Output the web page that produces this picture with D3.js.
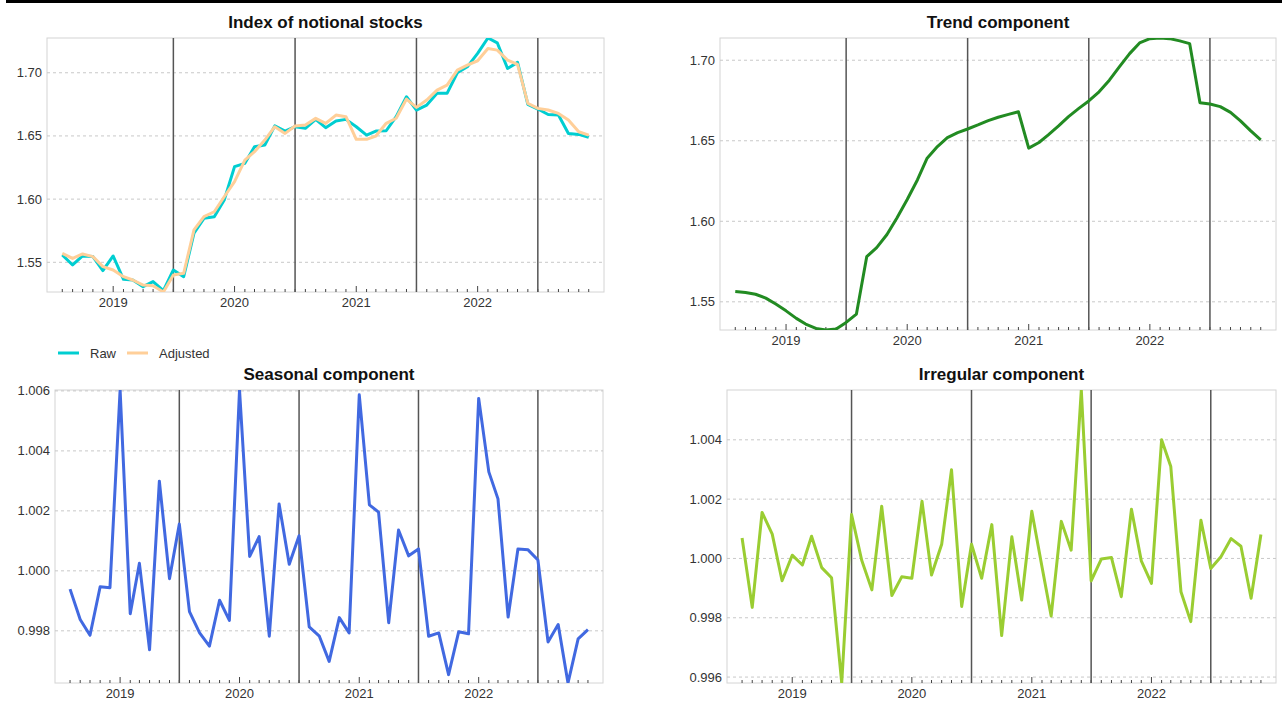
<!DOCTYPE html>
<html>
<head>
<meta charset="utf-8">
<script src="https://cdn.jsdelivr.net/npm/d3@7"></script>
<style>
body { margin: 0; background: #fff; }
svg { display: block; font-family: "Liberation Sans", Arial, sans-serif; }
</style>
</head>
<body>
<svg id="chart" width="1282" height="720"></svg>
<script>
// months Aug 2018 .. Dec 2022
var months = d3.utcMonth.range(new Date(Date.UTC(2018, 7, 1)), new Date(Date.UTC(2023, 0, 1)));
var yearLabels = ["2019", "2020", "2021", "2022"];
var breakDates = ["2019-07-01", "2020-07-01", "2021-07-01", "2022-07-01"];

var raw = [1.5558, 1.5479, 1.5550, 1.5545, 1.5434,
  1.5550, 1.5365, 1.5360, 1.5307, 1.5347, 1.5276, 1.5439, 1.5386, 1.5730, 1.5848, 1.5860, 1.5993,
  1.6257, 1.6283, 1.6415, 1.6428, 1.6580, 1.6539, 1.6573, 1.6560, 1.6631, 1.6565, 1.6618, 1.6631,
  1.6573, 1.6507, 1.6539, 1.6541, 1.6652, 1.6810, 1.6705, 1.6744, 1.6837, 1.6837, 1.7000, 1.7047,
  1.7153, 1.7275, 1.7237, 1.7034, 1.7082, 1.6750, 1.6713, 1.6670, 1.6665, 1.6520, 1.6512, 1.6489];

var adjusted = [1.5571, 1.5531, 1.5566, 1.5545, 1.5466,
  1.5439, 1.5386, 1.5360, 1.5320, 1.5315, 1.5265, 1.5400, 1.5413, 1.5756, 1.5861, 1.5900, 1.6019,
  1.6138, 1.6309, 1.6375, 1.6467, 1.6573, 1.6520, 1.6578, 1.6586, 1.6639, 1.6599, 1.6665, 1.6652,
  1.6473, 1.6473, 1.6499, 1.6600, 1.6640, 1.6792, 1.6726, 1.6784, 1.6863, 1.6902, 1.7021, 1.7061,
  1.7095, 1.7192, 1.7179, 1.7100, 1.7066, 1.6757, 1.6718, 1.6705, 1.6678, 1.6626, 1.6533, 1.6507];

var trend = [1.5564, 1.5558, 1.5547, 1.5523, 1.5486,
  1.5444, 1.5397, 1.5362, 1.5335, 1.5325, 1.5331, 1.5372, 1.5424, 1.5780, 1.5836, 1.5918, 1.6021,
  1.6135, 1.6258, 1.6392, 1.6464, 1.6520, 1.6551, 1.6573, 1.6598, 1.6625, 1.6646, 1.6664, 1.6680,
  1.6454, 1.6489, 1.6536, 1.6592, 1.6650, 1.6701, 1.6747, 1.6804, 1.6876, 1.6959, 1.7041, 1.7107,
  1.7134, 1.7138, 1.7134, 1.7120, 1.7103, 1.6736, 1.6728, 1.6712, 1.6676, 1.6623, 1.6561, 1.6505];

var seasonal = [0.99939, 0.99838, 0.99785, 0.99947, 0.99944,
  1.00603, 0.99857, 1.00025, 0.99737, 1.00299, 0.99974, 1.00156, 0.99864, 0.99793, 0.99749, 0.99902, 0.99835,
  1.00603, 1.00048, 1.00114, 0.99782, 1.00223, 1.00022, 1.00117, 0.99813, 0.99782, 0.99698, 0.99844, 0.99793,
  1.00587, 1.00220, 1.00196, 0.99827, 1.00136, 1.00050, 1.00073, 0.99782, 0.99793, 0.99654, 0.99797, 0.99790,
  1.00575, 1.00330, 1.00240, 0.99846, 1.00073, 1.00070, 1.00036, 0.99763, 0.99821, 0.99626, 0.99773, 0.99804];

var irregular = [1.00069, 0.99835, 1.00155, 1.00082, 0.99925,
  1.00011, 0.99978, 1.00075, 0.99969, 0.99935, 0.99580, 1.00148, 0.99994, 0.99894, 1.00176, 0.99875, 0.99938,
  0.99933, 1.00193, 0.99944, 1.00048, 1.00299, 0.99838, 1.00048, 0.99933, 1.00114, 0.99740, 1.00073, 0.99860,
  1.00159, 0.99972, 0.99806, 1.00125, 1.00028, 1.00568, 0.99924, 0.99998, 1.00003, 0.99871, 1.00166, 0.99992,
  0.99916, 1.00400, 1.00310, 0.99888, 0.99787, 1.00129, 0.99966, 1.00006, 1.00067, 1.00041, 0.99866, 1.00081];

var ticksLevel = [1.55, 1.60, 1.65, 1.70];
var ticksSeasonal = [0.998, 1.000, 1.002, 1.004, 1.006];
var ticksIrregular = [0.996, 0.998, 1.000, 1.002, 1.004];

var legendNames = ["Raw", "Adjusted"];
var legendColors = ["#00ced1", "#ffcf99"];

var svg = d3.select("#chart");

// black strip along the top
svg.append("rect").attr("x", 6).attr("y", 0).attr("width", 1276).attr("height", 3).attr("fill", "#000");

function drawPanel(box, title, series, yTicks, fmt, id) {
    var w = box.x1 - box.x0, h = box.y1 - box.y0;
    var g = svg.append("g").attr("transform", "translate(" + box.x0 + "," + box.y0 + ")");

    var x = d3.scaleUtc()
        .domain([d3.utcDay.offset(months[0], -46), d3.utcDay.offset(months[months.length - 1], 46)])
        .range([0, w]);
    var all = [];
    series.forEach(function(s) { all = all.concat(s.values); });
    var y = d3.scaleLinear().domain(d3.extent(all)).range([h, 0]);

    // border
    g.append("rect").attr("width", w).attr("height", h)
        .attr("fill", "none").attr("stroke", "#d4d4d4").attr("stroke-width", 1);

    // horizontal dashed grid
    g.selectAll("line.grid").data(yTicks).enter().append("line")
        .attr("class", "grid")
        .attr("x1", 0).attr("x2", w)
        .attr("y1", function(d) { return y(d); }).attr("y2", function(d) { return y(d); })
        .attr("stroke", "#c8c8c8").attr("stroke-dasharray", "3,3");

    // y labels
    g.selectAll("text.ylab").data(yTicks).enter().append("text")
        .attr("class", "ylab")
        .attr("x", -5).attr("y", function(d) { return y(d); })
        .attr("dy", "0.35em").attr("text-anchor", "end")
        .attr("font-size", 13).attr("fill", "#333")
        .text(function(d) { return d3.format(fmt)(d); });

    // month ticks and year ticks
    g.selectAll("line.mtick").data(months).enter().append("line")
        .attr("class", "mtick")
        .attr("x1", function(d) { return x(d); }).attr("x2", function(d) { return x(d); })
        .attr("y1", h).attr("y2", function(d) { return d.getUTCMonth() === 0 ? h - 6 : h - 3; })
        .attr("stroke", "#444").attr("stroke-width", 1);

    g.selectAll("text.xlab").data(yearLabels).enter().append("text")
        .attr("class", "xlab")
        .attr("x", function(d) { return x(new Date(Date.UTC(+d, 0, 1))); })
        .attr("y", h + 15).attr("text-anchor", "middle")
        .attr("font-size", 13).attr("fill", "#333")
        .text(function(d) { return d; });

    // fiscal year breaks
    g.selectAll("line.brk").data(breakDates).enter().append("line")
        .attr("class", "brk")
        .attr("x1", function(d) { return x(new Date(d)); }).attr("x2", function(d) { return x(new Date(d)); })
        .attr("y1", 0).attr("y2", h)
        .attr("stroke", "#555").attr("stroke-width", 1.5);

    g.append("clipPath").attr("id", id).append("rect").attr("width", w).attr("height", h);

    var line = d3.line()
        .x(function(d, i) { return x(months[i]); })
        .y(function(d) { return y(d); });

    series.forEach(function(s) {
        g.append("path")
            .attr("clip-path", "url(#" + id + ")")
            .attr("d", line(s.values))
            .attr("fill", "none")
            .attr("stroke", s.color)
            .attr("stroke-width", s.width)
            .attr("stroke-linejoin", "round");
    });

    g.append("text")
        .attr("x", w / 2).attr("y", -10.5)
        .attr("text-anchor", "middle")
        .attr("font-size", 17).attr("font-weight", "bold").attr("fill", "#111")
        .text(title);

    return g;
}

drawPanel({x0: 47, x1: 604, y0: 38, y1: 292}, "Index of notional stocks",
    [{values: raw, color: legendColors[0], width: 3}, {values: adjusted, color: legendColors[1], width: 3}],
    ticksLevel, ".2f", "c1");
drawPanel({x0: 720, x1: 1276, y0: 38, y1: 330}, "Trend component",
    [{values: trend, color: "#228b22", width: 3}], ticksLevel, ".2f", "c2");
drawPanel({x0: 55, x1: 603, y0: 390, y1: 683}, "Seasonal component",
    [{values: seasonal, color: "#4169e1", width: 3}], ticksSeasonal, ".3f", "c3");
drawPanel({x0: 727, x1: 1276, y0: 390, y1: 683}, "Irregular component",
    [{values: irregular, color: "#9acd32", width: 3}], ticksIrregular, ".3f", "c4");

// legend below the first panel
var legend = svg.append("g").attr("transform", "translate(58,353)");
var item = legend.selectAll("g").data(legendNames).enter().append("g")
    .attr("transform", function(d, i) { return "translate(" + (i * 69) + ",0)"; });
item.append("line").attr("x1", 0).attr("x2", 21).attr("y1", 0).attr("y2", 0)
    .attr("stroke", function(d, i) { return legendColors[i]; }).attr("stroke-width", 3);
item.append("text").attr("x", 32).attr("y", 0).attr("dy", "0.35em")
    .attr("font-size", 13).attr("fill", "#333")
    .text(function(d) { return d; });
</script>
</body>
</html>
